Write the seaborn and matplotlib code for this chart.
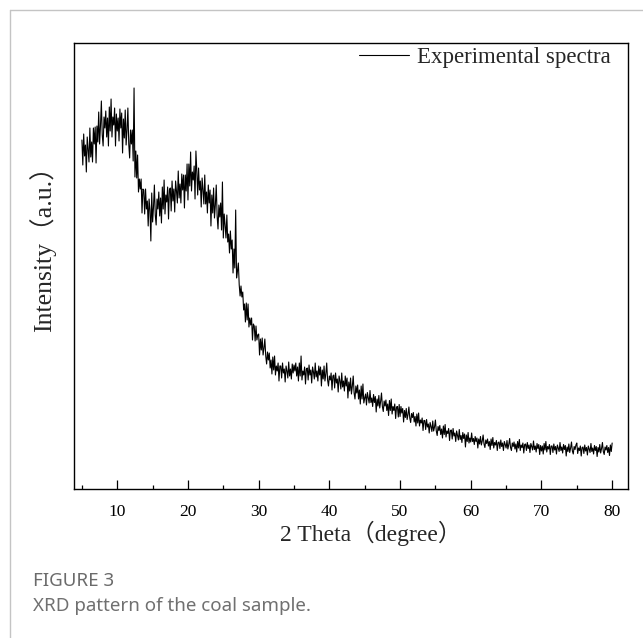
import numpy as np
import pandas as pd
import matplotlib
matplotlib.use("Agg")
import matplotlib.pyplot as plt
from matplotlib.lines import Line2D
from matplotlib.ticker import MultipleLocator
import seaborn as sns

# ---------------- data ----------------
theta_start = 5.0
theta_step = 0.125
intensity = [
    # 5.000 - 9.875
    349, 324, 355, 333, 344, 317, 352, 340, 327, 361, 332, 347, 327, 361, 345, 362, 326, 363, 347, 377,
    345, 363, 388, 354, 343, 372, 361, 378, 352, 371, 343, 382, 358, 390, 352, 372, 364, 381, 343, 375,
    # 10.000 - 14.875
    358, 371, 348, 380, 361, 376, 336, 370, 351, 379, 344, 359, 381, 345, 331, 359, 345, 359, 328, 401,
    312, 338, 311, 334, 297, 310, 300, 310, 276, 300, 299, 275, 300, 280, 288, 263, 290, 279, 248, 296,
    # 15.000 - 19.875
    267, 282, 304, 274, 264, 290, 280, 297, 273, 291, 266, 302, 280, 309, 275, 294, 287, 302, 270, 299,
    301, 278, 308, 288, 300, 277, 308, 298, 286, 318, 291, 305, 286, 315, 299, 314, 281, 314, 298, 325,
    # 20.000 - 24.875
    289, 325, 303, 337, 298, 317, 309, 323, 290, 338, 318, 294, 321, 299, 308, 282, 311, 299, 285, 314,
    285, 297, 276, 304, 286, 299, 263, 294, 276, 301, 271, 284, 304, 273, 260, 284, 272, 286, 259, 307,
    # 25.000 - 29.875
    251, 275, 264, 251, 274, 247, 255, 236, 258, 240, 249, 216, 240, 221, 279, 211, 218, 226, 204, 193,
    203, 192, 197, 179, 185, 167, 186, 169, 185, 162, 171, 164, 171, 149, 165, 163, 148, 163, 149, 154,
    # 30.000 - 34.875
    155, 134, 150, 139, 151, 134, 141, 150, 133, 125, 137, 129, 136, 121, 129, 115, 132, 119, 133, 114,
    123, 118, 126, 108, 123, 123, 111, 126, 116, 120, 107, 123, 118, 111, 127, 113, 120, 110, 125, 116,
    # 35.000 - 39.875
    124, 118, 126, 113, 122, 108, 126, 113, 133, 109, 118, 114, 122, 105, 120, 121, 109, 124, 114, 119,
    106, 122, 117, 110, 126, 112, 118, 108, 123, 114, 122, 103, 119, 110, 123, 108, 115, 126, 109, 103,
    # 40.000 - 44.875
    113, 109, 116, 99, 113, 114, 101, 116, 106, 110, 97, 113, 108, 100, 116, 102, 108, 98, 113, 103,
    111, 91, 107, 98, 111, 95, 103, 113, 96, 90, 103, 96, 104, 90, 99, 85, 103, 90, 105, 86,
    # 45.000 - 49.875
    91, 95, 84, 96.5, 91.5, 86, 98.5, 86.5, 91, 82.5, 94.5, 86.5, 92.5, 77, 90, 83, 93.5, 81, 87.5, 96,
    82.5, 77.5, 88, 83, 89, 78.5, 85, 73.5, 88.5, 78.5, 90, 75, 82.5, 78.5, 85, 70.5, 82, 82.5, 72, 84.5,
    # 50.000 - 54.875
    72.5, 82.5, 76, 80.5, 67, 78.5, 71.5, 80.5, 69.5, 74.5, 82, 71, 66.5, 75.5, 71.5, 76.5, 67, 72.5, 63, 75,
    66, 76, 63, 69, 66, 71, 58.5, 68.5, 68.5, 59.5, 69.5, 62, 65, 56, 66.5, 62.5, 57.5, 68, 58, 62,
    # 55.000 - 59.875
    69, 58, 53.5, 62.5, 58.5, 63.5, 54.5, 60, 51, 63, 54.5, 64.5, 52, 58, 55.5, 60.5, 48.5, 58.5, 59, 50,
    60.5, 53, 56, 47.5, 58, 53.5, 49, 59.5, 49.5, 53.5, 46.5, 56.5, 50.5, 55, 42, 54, 47.5, 56.5, 46, 51,
    # 60.000 - 64.875
    47, 56, 47.5, 50.5, 44.5, 52.5, 47.5, 51, 41, 50, 45, 52.5, 44, 48, 54, 45, 41.5, 49, 45.5, 50,
    43, 47.5, 39.5, 50, 43.5, 51.5, 41, 46.5, 44, 48.5, 38.5, 46.5, 47, 40.5, 49, 42.5, 46, 38.5, 47.5, 44.5,
    # 65.000 - 69.875
    41, 48.5, 40, 44.5, 50.5, 41.5, 38.5, 46, 42.5, 47, 40, 45, 37, 47.5, 41, 49.5, 38.5, 44, 41.5, 46,
    36, 44.5, 45, 38.5, 46.5, 40.5, 44, 36.5, 45.5, 42.5, 39, 48, 39.5, 43, 37, 45.5, 40.5, 44.5, 34.5, 43.5,
    # 70.000 - 74.875
    38, 43, 35, 45.5, 39, 47.5, 37, 42.5, 40, 44.5, 34.5, 43, 43, 36.5, 45, 39, 42.5, 35, 44, 41,
    37.5, 46.5, 38.5, 42, 36, 44.5, 39.5, 43.5, 33, 42, 37.5, 45, 36.5, 41, 47, 38, 35, 42.5, 39.5, 44,
    # 75.000 - 80.000
    46, 35.5, 41, 38.5, 43, 33, 41.5, 42, 35.5, 44, 38, 41.5, 34, 43, 40, 36.5, 45.5, 37.5, 41, 35,
    43.5, 38.5, 42.5, 32.5, 41.5, 37, 44.5, 36, 40.5, 46.5, 37.5, 34.5, 42, 39, 43.5, 36.5, 41.5, 33.5, 44, 37.5,
    46,
]
two_theta = theta_start + theta_step * np.arange(len(intensity))
x_ticks_major = [10, 20, 30, 40, 50, 60, 70, 80]
series_label = "Experimental spectra"
x_label = "2 Theta（degree）"
y_label = "Intensity（a.u.）"
caption_title = "FIGURE 3"
caption_text = "XRD pattern of the coal sample."

df = pd.DataFrame({"two_theta": two_theta, "intensity": intensity})

# ---------------- style ----------------
sns.set_style("white")
plt.rcParams["font.family"] = ["Liberation Serif", "Noto Sans CJK SC"]

W, H = 643, 638
fig = plt.figure(figsize=(W / 100, H / 100), dpi=100)
ax = fig.add_axes([74 / W, 1 - 489 / H, (627.7 - 74) / W, (489 - 43) / H])

sns.lineplot(data=df, x="two_theta", y="intensity", ax=ax, color="black",
             linewidth=0.8, label=series_label, estimator=None, sort=False)

ax.set_xlim(3.88, 82.2)
ax.set_ylim(0, 446)
ax.set_yticks([])
ax.set_xticks(x_ticks_major)
ax.xaxis.set_minor_locator(MultipleLocator(5))
ax.tick_params(axis="x", which="major", direction="in", length=6.5, width=0.9,
               labelsize=12.5, pad=11, bottom=True, top=False, colors="black")
ax.tick_params(axis="x", which="minor", direction="in", length=2.6, width=0.9,
               bottom=True, top=False, colors="black")
for sp in ax.spines.values():
    sp.set_visible(True)
    sp.set_color("black")
    sp.set_linewidth(1.0)

ax.set_xlabel("")
ax.set_ylabel("")
fig.text(371 / W, 1 - 533 / H, x_label, ha="center", va="center", fontsize=17)
fig.text(43 / W, 1 - 243 / H, y_label, ha="center", va="center", rotation=90, fontsize=18.5)

leg = ax.legend(loc="center right", bbox_to_anchor=((611 - 74) / 553.7, (489 - 57) / 446),
                frameon=False, fontsize=16.5, handlelength=2.2, handletextpad=0.35,
                borderpad=0, borderaxespad=0)
for h in leg.get_lines():
    h.set_linewidth(0.8)

# figure frame (light gray, left and top)
fig.add_artist(Line2D([10 / W, 10 / W], [0, 1 - 10 / H], color="#c4c4c4", linewidth=1.0))
fig.add_artist(Line2D([10 / W, 1], [1 - 10 / H, 1 - 10 / H], color="#c4c4c4", linewidth=1.0))

# caption
fig.text(33 / W, 1 - 581 / H, caption_title, ha="left", va="center", fontsize=13.5,
         fontweight="bold", color="#6b6b6b", family="Noto Sans")
fig.text(33 / W, 1 - 606 / H, caption_text, ha="left", va="center", fontsize=13.5,
         color="#707070", family="Noto Sans")

fig.savefig("out.png", dpi=100)
